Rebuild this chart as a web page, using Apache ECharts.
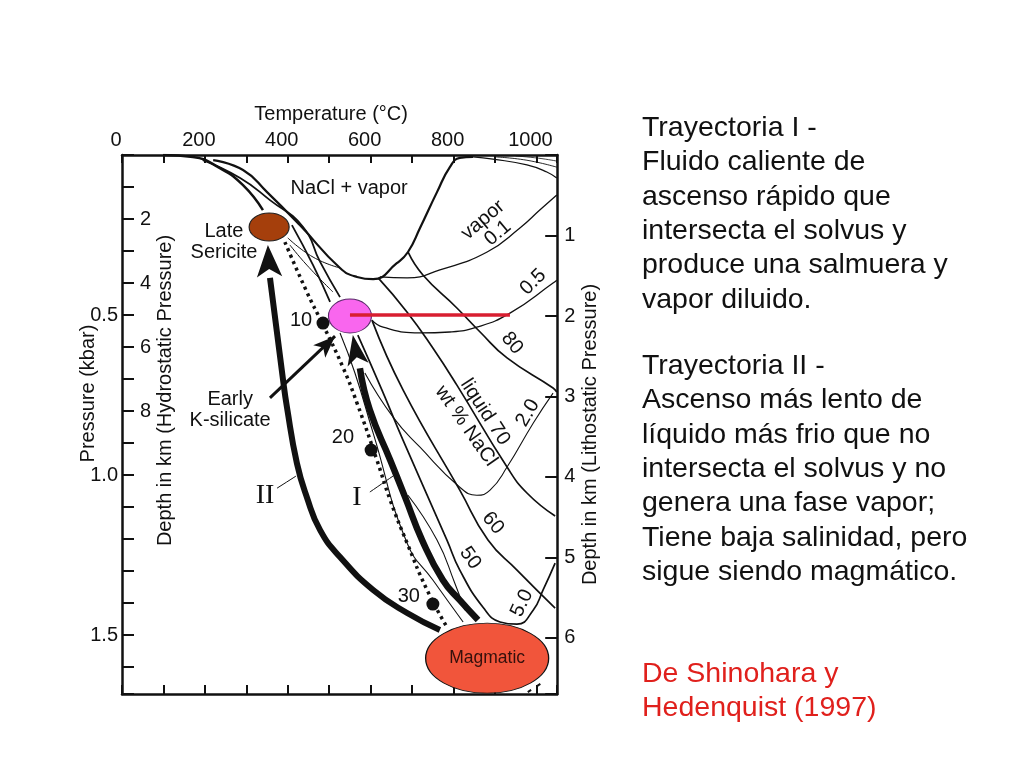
<!DOCTYPE html>
<html>
<head>
<meta charset="utf-8">
<title>Trayectorias de fluidos</title>
<style>
	html,body{margin:0;padding:0;background:#fff;}
	#chart{width:1024px;height:768px;}
</style>
<script src="https://cdn.jsdelivr.net/npm/echarts@6/dist/echarts.min.js"></script>
</head>
<body>
<div id="chart"></div>
<script>
//ticks
var temperatureLabels=['0','200','400','600','800','1000'];
var pressureLabels=['0.5','1.0','1.5'];
var hydrostaticLabels=['2','4','6','8'];
var lithostaticLabels=['1','2','3','4','5','6'];

//curves, [temperature C, pressure kbar]
var haliteCurve=[[99,0],[171,0.006],[236,0.041],[292,0.094],[340,0.172]];
var solvusCurve=[[220,0.016],[292,0.047],[350,0.116],[429,0.219],[526,0.353],[567,0.381],[606,0.388],[663,0.338],[690,0.303],[719,0.228],[760,0.116],[791,0.038],[815,0.009],[847,0.006]];
var vaporTopCurve=[[847,0.006],[895,0.013],[977,0.031],[1025,0.053],[1049,0.072]];
var vaporTopThin=[[900,0.006],[975,0.016],[1049,0.038]];
var vaporTopThinner=[[950,0.003],[1005,0.01],[1049,0.019]];
var upperLineA=[[410,0.219],[461,0.344],[502,0.459]];
var upperLineB=[[195,0.016],[285,0.072],[357,0.141],[437,0.225],[478,0.334],[526,0.444]];
var liquid80=[[690,0.303],[726,0.375],[808,0.478],[864,0.553],[929,0.634],[1040,0.728],[1049,0.741]];
var liquid70=[[618,0.384],[688,0.491],[750,0.603],[808,0.719],[929,0.975],[977,1.056],[1045,1.128]];
var liquid60=[[603,0.516],[678,0.734],[815,1.047],[883,1.203],[953,1.297],[1045,1.416]];
var liquid50=[[569,0.563],[627,0.734],[678,0.891],[784,1.203],[815,1.297],[871,1.413],[912,1.459],[953,1.466],[992,1.422],[1016,1.359],[1045,1.275]];
var vapor01=[[622,0.381],[688,0.384],[767,0.359],[881,0.303],[960,0.228],[1008,0.172],[1049,0.125]];
var vapor05=[[603,0.516],[630,0.538],[719,0.556],[791,0.553],[856,0.538],[936,0.494],[1040,0.4],[1049,0.391]];
var vapor20=[[586,0.681],[654,0.819],[719,0.913],[815,1.038],[856,1.063],[888,1.047],[929,0.975],[992,0.838],[1040,0.744]];
var thinUpperA=[[400,0.259],[461,0.319],[526,0.353]];
var thinUpperB=[[405,0.281],[446,0.344],[509,0.428]];
var thinLowerA=[[526,0.556],[562,0.681],[606,0.869],[688,1.213],[750,1.328],[823,1.459]];
var thinLowerB=[[690,1.063],[760,1.203],[803,1.338],[827,1.422]];
var tailDashes=[[979,1.678],[1023,1.641]];
var leaderOne=[[598,1.053],[654,1.003]];
var leaderTwo=[[374,1.041],[420,1.003]];

var dottedPath=[[393,0.272],[446,0.428],[485,0.531],[533,0.663],[567,0.775],[615,0.953],[647,1.078],[688,1.213],[736,1.359],[784,1.475]];
var pathOne=[[859,1.453],[815,1.391],[774,1.328],[724,1.203],[683,1.069],[647,0.953],[598,0.797],[574,0.666]];
var pathTwo=[[767,1.484],[688,1.431],[606,1.359],[526,1.256],[478,1.172],[446,1.069],[422,0.963],[398,0.788],[388,0.697],[357,0.384]];
var earlyArrow=[[357,0.759],[514,0.566]];
var redLine=[[550,0.5],[936,0.5]];

//depth points 10, 20, 30 km
var depthDots=[[485,0.525],[601,0.922],[750,1.403]];

//arrow tips [temperature, pressure, rotation]
var pathOneTip=[[557,0.5625,10]];
var pathTwoTip=[[352,0.281,3]];
var earlyTip=[[514,0.566,-46]];

//inclusion fields
var lateField=[355,0.225];
var earlyField=[550,0.503];
var magmaticField=[881,1.572];

//labels placed on the diagram [temperature, pressure, text, rotation]
var curveNotes=[
	[548,0.106,'NaCl + vapor',0],
	[246,0.272,'Late\nSericite',0],
	[261,0.797,'Early\nK-silicate',0],
	[432,0.516,'10',0],
	[533,0.884,'20',0],
	[692,1.378,'30',0],
	[871,0.203,'vapor',40],
	[907,0.244,'0.1',40],
	[992,0.397,'0.5',45],
	[941,0.588,'80',-50],
	[979,0.806,'2.0',60],
	[876,0.803,'liquid 70',-57],
	[830,0.847,'wt % NaCl',-55],
	[895,1.15,'60',-50],
	[840,1.259,'50',-55],
	[965,1.4,'5.0',65]
];
var pathNotes=[[345,1.063,'II'],[567,1.069,'I']];

//text on the right
var trajectoryOneText=['Trayectoria I -','Fluido caliente de','ascenso rápido que','intersecta el solvus y','produce una salmuera y','vapor diluido.'];
var trajectoryTwoText=['Trayectoria II -','Ascenso más lento de','líquido más frio que no','intersecta el solvus y no','genera una fase vapor;','Tiene baja salinidad, pero','sigue siendo magmático.'];
var sourceText=['De Shinohara y','Hedenquist (1997)'];

var FONT='"Liberation Sans",Arial,sans-serif';

function curve(data,width,extra){
	var s={
		type:'line',
		data:data,
		smooth:0.5,
		showSymbol:false,
		symbol:'none',
		silent:true,
		lineStyle:{color:'#111',width:width},
		z:3
	};
	if(extra){
		for(var k in extra){ s[k]=extra[k]; }
	}
	return s;
}

function field(center,w,h,color,border,extra){
	var s={
		type:'scatter',
		data:[center],
		symbol:'circle',
		symbolSize:[w,h],
		itemStyle:{color:color,borderColor:border,borderWidth:1,opacity:1},
		silent:true,
		z:6
	};
	if(extra){
		for(var k in extra){ s[k]=extra[k]; }
	}
	return s;
}

function heads(data,w,h){
	return {
		type:'scatter',
		symbol:'arrow',
		symbolSize:[w,h],
		symbolRotate:function(v){ return v[2]; },
		data:data,
		itemStyle:{color:'#111',opacity:1},
		silent:true,
		z:5
	};
}

function notes(data,size,family){
	return {
		type:'scatter',
		symbolSize:0,
		clip:false,
		silent:true,
		z:8,
		itemStyle:{opacity:1},
		data:data.map(function(n){
			return {
				value:[n[0],n[1]],
				label:{
					show:true,
					position:'inside',
					formatter:n[2],
					rotate:n[3]||0,
					color:'#111',
					fontFamily:family,
					fontSize:size,
					lineHeight:21,
					align:'center',
					verticalAlign:'middle'
				}
			};
		})
	};
}

function blockText(lines,top,color){
	return {
		type:'text',
		left:642,
		top:top,
		silent:true,
		style:{
			text:lines.join('\n'),
			fill:color,
			font:'28.5px '+FONT,
			lineHeight:34.3
		}
	};
}

var chart=echarts.init(document.getElementById('chart'),null,{renderer:'canvas'});

var axisLine={show:true,onZero:false,lineStyle:{color:'#111',width:2.5}};
var tickStyle={color:'#111',width:2};

var options={
	animation:false,
	backgroundColor:'#ffffff',
	textStyle:{fontFamily:FONT},
	grid:{left:122,top:155,width:435.2,height:539,containLabel:false},
	xAxis:[
		{
			type:'value',position:'top',min:0,max:1050,interval:100,
			name:'Temperature (°C)',nameLocation:'middle',nameGap:31,
			nameMoveOverlap:false,
			nameTextStyle:{color:'#111',fontSize:20,padding:[0,17,0,0]},
			axisLine:axisLine,
			axisTick:{inside:true,length:8,lineStyle:tickStyle},
			axisLabel:{
				color:'#111',fontSize:20,margin:5,padding:[0,12,0,0],
				formatter:function(v){ return temperatureLabels.indexOf(String(v))>=0?String(v):''; }
			},
			splitLine:{show:false}
		},
		{
			type:'value',position:'bottom',min:0,max:1050,interval:100,
			axisLine:axisLine,
			axisTick:{inside:true,length:9,lineStyle:tickStyle},
			axisLabel:{show:false},
			splitLine:{show:false}
		}
	],
	yAxis:[
		{
			type:'value',position:'left',inverse:true,min:0,max:1.684,interval:0.1,
			name:'Pressure (kbar)',nameLocation:'middle',nameGap:24,nameRotate:90,
			nameMoveOverlap:false,
			nameTextStyle:{color:'#111',fontSize:20,padding:[0,0,0,62]},
			axisLine:axisLine,
			axisTick:{inside:true,length:12,lineStyle:tickStyle},
			axisLabel:{
				color:'#111',fontSize:20,margin:4,
				formatter:function(v){ var t=v.toFixed(1); return pressureLabels.indexOf(t)>=0?t:''; }
			},
			splitLine:{show:false}
		},
		{
			type:'value',position:'left',inverse:true,min:0,max:16.84,interval:2,
			name:'Depth in km (Hydrostatic Pressure)',nameLocation:'middle',nameGap:-53,nameRotate:90,
			nameMoveOverlap:false,
			nameTextStyle:{color:'#111',fontSize:20,padding:[0,0,0,68]},
			axisLine:{show:false,onZero:false},
			axisTick:{show:false},
			axisLabel:{
				inside:true,color:'#111',fontSize:20,margin:18,
				formatter:function(v){ return hydrostaticLabels.indexOf(String(v))>=0?String(v):''; }
			},
			splitLine:{show:false}
		},
		{
			type:'value',position:'right',inverse:true,min:0,max:6.696,interval:1,
			name:'Depth in km (Lithostatic Pressure)',nameLocation:'middle',nameGap:23,nameRotate:90,
			nameMoveOverlap:false,
			nameTextStyle:{color:'#111',fontSize:20,padding:[0,20,0,0]},
			axisLine:axisLine,
			axisTick:{inside:true,length:12,lineStyle:tickStyle},
			axisLabel:{
				color:'#111',fontSize:20,margin:7,
				formatter:function(v){ return lithostaticLabels.indexOf(String(v))>=0?String(v):''; }
			},
			splitLine:{show:false}
		}
	],
	series:[
		curve(haliteCurve,2.5),
		curve(solvusCurve,2.2),
		curve(vaporTopCurve,1.2),
		curve(vaporTopThin,0.9),
		curve(vaporTopThinner,0.8),
		curve(upperLineA,1.8),
		curve(upperLineB,1.8),
		curve(liquid80,1.7),
		curve(liquid70,1.7),
		curve(liquid60,1.7),
		curve(liquid50,1.7),
		curve(vapor01,1.3),
		curve(vapor05,1.3),
		curve(vapor20,1.1),
		curve(thinUpperA,1),
		curve(thinUpperB,1),
		curve(thinLowerA,1.1),
		curve(thinLowerB,1.1),
		curve(tailDashes,2,{smooth:false,lineStyle:{color:'#111',width:2,type:[4,7]}}),
		curve(leaderOne,1),
		curve(leaderTwo,1),
		curve(dottedPath,3.5,{lineStyle:{color:'#111',width:3.5,type:[3,4]}}),
		curve(pathOne,6.5),
		curve(pathTwo,6),
		curve(earlyArrow,3,{smooth:false}),
		heads(pathOneTip,16,30),
		heads(pathTwoTip,19,32),
		heads(earlyTip,13,22),
		{
			type:'scatter',
			data:depthDots,
			symbolSize:13,
			itemStyle:{color:'#111',opacity:1},
			silent:true,
			z:5
		},
		field(lateField,40,28,'#a53f0c','#222'),
		field(earlyField,43,34,'#f966ee','#5a2a6a'),
		curve(redLine,3.5,{smooth:false,lineStyle:{color:'#d81e30',width:3.5},z:7}),
		field(magmaticField,123,70,'#f1553b','#111',{
			label:{show:true,position:'inside',formatter:'Magmatic',color:'#35100c',fontSize:17.5}
		}),
		notes(curveNotes,20,FONT),
		notes(pathNotes,28,'"Liberation Serif",serif')
	],
	graphic:[
		blockText(trajectoryOneText,111,'#111'),
		blockText(trajectoryTwoText,349,'#111'),
		blockText(sourceText,657,'#e0201c')
	]
};
chart.setOption(options);
</script>
</body>
</html>
